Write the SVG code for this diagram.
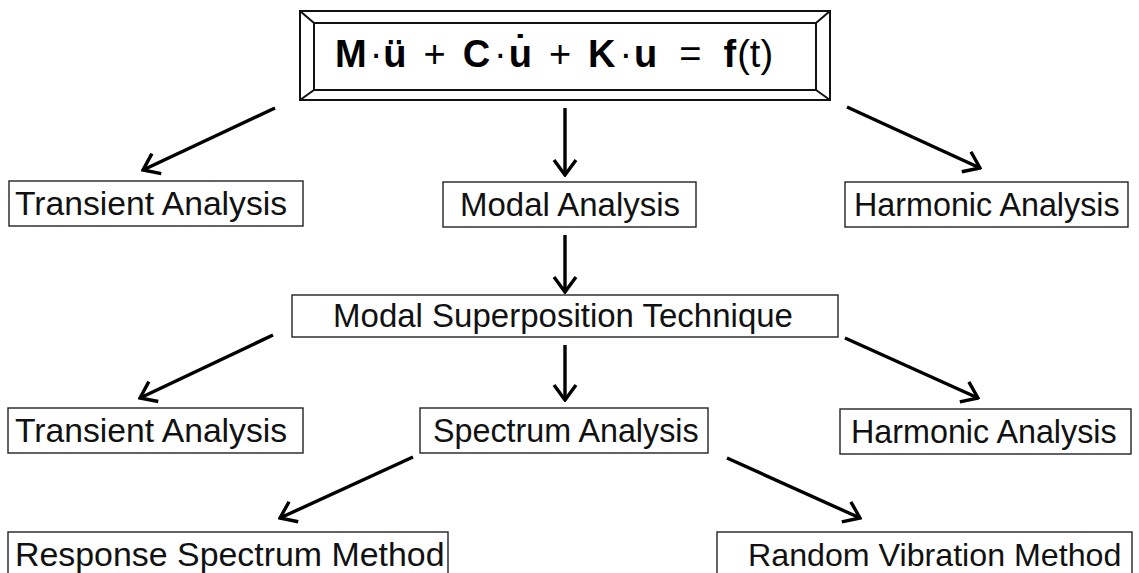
<svg xmlns="http://www.w3.org/2000/svg" width="1139" height="573" viewBox="0 0 1139 573">
<style>
.bg{fill:#ffffff}
.box{fill:#ffffff;stroke:#222;stroke-width:1.4}
.frame{fill:none;stroke:#111;stroke-width:2}
.lbl{font-family:"Liberation Sans",Arial,sans-serif;font-size:33px;fill:#111}
.s337{font-size:33.7px}
.s323{font-size:32.3px}
.s339{font-size:33.9px}
.s322{font-size:32.2px}
.eq{font-family:"Liberation Sans",Arial,sans-serif;font-size:38px;fill:#000}
.b{font-weight:bold}
.edge{stroke:#000;stroke-width:3.4;fill:none;marker-end:url(#ah)}
</style>
<defs>
<marker id="ah" markerUnits="userSpaceOnUse" viewBox="-18 -13 20 26" refX="0" refY="0" markerWidth="20" markerHeight="26" orient="auto">
<path d="M-15,-11 L0,0 L-15,11" fill="none" stroke="#000" stroke-width="3.4" stroke-linejoin="miter"/>
</marker>
</defs>
<rect class="bg" x="0" y="0" width="1139" height="573"/>
<g id="node-equation">
<rect class="frame" x="300" y="11" width="530" height="89"/>
<rect class="frame" x="314" y="23" width="502" height="67"/>
<path class="frame" d="M300,11 L314,23 M830,11 L816,23 M300,100 L314,90 M830,100 L816,90"/>
<text class="eq" y="67"><tspan class="b" x="335">M</tspan><tspan x="369.7">·</tspan><tspan class="b" x="383.3">ü</tspan><tspan x="423.5">+</tspan><tspan class="b" x="462.7">C</tspan><tspan x="494.1">·</tspan><tspan class="b" x="508.7">u̇</tspan><tspan x="548.9">+</tspan><tspan class="b" x="588.1">K</tspan><tspan x="619.5">·</tspan><tspan class="b" x="634.1">u</tspan><tspan x="679.3">=</tspan><tspan class="b" x="723.5">f</tspan><tspan x="737.2">(t)</tspan></text>
</g>
<g id="node-transient1">
<rect class="box" x="9" y="181" width="294" height="45"/>
<text class="lbl s337" x="15" y="215">Transient Analysis</text>
</g>
<g id="node-modal">
<rect class="box" x="443" y="182" width="253" height="45"/>
<text class="lbl" x="460" y="216">Modal Analysis</text>
</g>
<g id="node-harmonic1">
<rect class="box" x="845" y="182" width="283" height="45"/>
<text class="lbl s323" x="854" y="216">Harmonic Analysis</text>
</g>
<g id="node-superposition">
<rect class="box" x="292" y="295" width="546" height="42"/>
<text class="lbl" x="563" y="327" text-anchor="middle">Modal Superposition Technique</text>
</g>
<g id="node-transient2">
<rect class="box" x="8" y="408" width="295" height="45"/>
<text class="lbl s337" x="15" y="442">Transient Analysis</text>
</g>
<g id="node-spectrum">
<rect class="box" x="420" y="408" width="288" height="45"/>
<text class="lbl s323" x="433" y="442">Spectrum Analysis</text>
</g>
<g id="node-harmonic2">
<rect class="box" x="840" y="409" width="291" height="45"/>
<text class="lbl s323" x="851" y="443">Harmonic Analysis</text>
</g>
<g id="node-response">
<rect class="box" x="8" y="532" width="440" height="50"/>
<text class="lbl s339" x="15" y="566">Response Spectrum Method</text>
</g>
<g id="node-random">
<rect class="box" x="717" y="532" width="415" height="50"/>
<text class="lbl s322" x="748" y="566">Random Vibration Method</text>
</g>
<g id="connectors">
<path class="edge" d="M275,108 L143,170"/>
<path class="edge" d="M565,108 L565,175"/>
<path class="edge" d="M847,107 L980,168"/>
<path class="edge" d="M565,235 L565,292"/>
<path class="edge" d="M273,335 L140,398"/>
<path class="edge" d="M565,345 L565,400"/>
<path class="edge" d="M845,338 L978,398"/>
<path class="edge" d="M413,457 L280,518"/>
<path class="edge" d="M727,458 L860,518"/>
</g>
</svg>
